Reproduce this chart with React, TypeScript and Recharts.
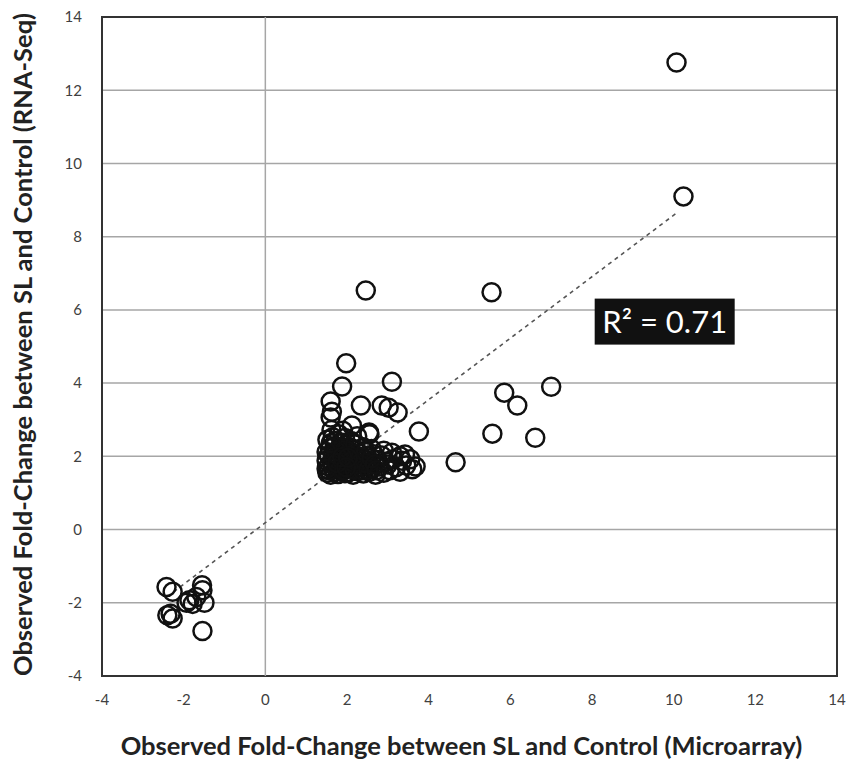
import React from "react";
import {
  ScatterChart,
  Scatter,
  XAxis,
  YAxis,
  CartesianGrid,
  ReferenceLine,
  ReferenceArea,
  ReferenceDot,
} from "recharts";

// [microarray FC, RNA-seq FC]
const downGenes: [number, number][] = [
  [-2.42, -1.57], [-2.27, -1.7], [-1.55, -1.52], [-1.54, -1.66],
  [-1.86, -1.93], [-1.78, -2.03], [-1.49, -2.0], [-1.93, -2.0],
  [-1.69, -1.84], [-2.4, -2.34], [-2.27, -2.43], [-2.32, -2.3],
  [-1.54, -2.77],
];

const clusterGenes: [number, number][] = [
  [1.52, 1.55], [1.6, 1.5], [1.7, 1.58], [1.78, 1.52], [1.85, 1.6],
  [1.95, 1.54], [2.05, 1.57], [2.15, 1.5], [2.25, 1.6], [2.4, 1.53],
  [2.55, 1.58], [2.7, 1.5], [2.9, 1.55], [3.05, 1.62], [3.3, 1.58],
  [3.6, 1.65], [1.55, 1.72], [1.65, 1.68], [1.75, 1.75], [1.88, 1.7],
  [1.98, 1.78], [2.1, 1.72], [2.22, 1.76], [2.35, 1.7], [2.5, 1.74],
  [2.62, 1.68], [2.8, 1.72], [3.0, 1.78], [3.2, 1.7], [3.45, 1.75],
  [3.68, 1.72], [1.5, 1.88], [1.62, 1.85], [1.72, 1.92], [1.82, 1.86],
  [1.92, 1.9], [2.02, 1.84], [2.12, 1.95], [2.28, 1.88], [2.42, 1.92],
  [2.58, 1.86], [2.75, 1.9], [2.95, 1.85], [3.12, 1.92], [3.35, 1.88],
  [3.55, 1.92], [1.55, 2.02], [1.66, 2.08], [1.78, 2.0], [1.9, 2.05],
  [2.0, 2.12], [2.15, 2.02], [2.3, 2.08], [2.48, 2.0], [2.65, 2.06],
  [2.85, 2.02], [3.1, 2.1], [3.42, 2.05], [3.3, 2.0], [1.58, 2.22],
  [1.7, 2.28], [1.82, 2.2], [1.95, 2.3], [2.08, 2.24], [2.22, 2.18],
  [2.4, 2.25], [2.6, 2.2], [2.9, 2.15], [1.52, 2.45], [1.65, 2.52],
  [1.8, 2.6], [1.95, 2.5], [2.1, 2.42], [2.25, 2.55], [2.55, 2.6],
  [1.72, 2.42], [1.56, 1.62], [1.64, 1.78], [1.68, 1.95], [1.74, 2.14],
  [1.84, 1.66], [1.86, 2.38], [1.92, 1.62], [1.96, 2.18], [2.04, 1.66],
  [2.06, 2.02], [2.1, 1.86], [2.18, 1.64], [2.2, 2.32], [2.3, 1.8],
  [2.34, 1.98], [2.38, 1.62], [2.45, 1.82], [2.46, 2.12], [2.52, 1.64],
  [2.6, 1.95], [2.68, 1.78], [2.72, 1.62], [1.5, 2.12], [1.5, 1.66],
  [1.6, 2.36], [1.76, 1.82], [1.88, 1.98], [1.98, 1.7], [2.02, 1.96],
];

const spreadGenes: [number, number][] = [
  [1.62, 2.72], [1.9, 2.7], [2.12, 2.84], [2.54, 2.65], [1.6, 3.06],
  [1.63, 3.22], [1.6, 3.5], [1.88, 3.91], [1.98, 4.54], [2.34, 3.39],
  [2.85, 3.39], [3.02, 3.33], [3.24, 3.2], [3.1, 4.04], [3.76, 2.68],
  [4.66, 1.84],
];

const outlierGenes: [number, number][] = [
  [10.07, 12.76], [10.24, 9.1], [2.46, 6.53], [5.54, 6.48], [5.85, 3.74],
  [6.17, 3.39], [7.0, 3.9], [5.56, 2.62], [6.61, 2.51],
];

const xTicks = [-4, -2, 0, 2, 4, 6, 8, 10, 12, 14];
const yTicks = [-4, -2, 0, 2, 4, 6, 8, 10, 12, 14];

const trendFrom = { x: -2.4, y: -1.83 };
const trendTo = { x: 10.1, y: 8.67 };

const rSquared = "0.71";
const labelAt = { x: 9.78, y: 5.68 };

const xTitle = "Observed Fold-Change between SL and Control (Microarray)";
const yTitle = "Observed Fold-Change between SL and Control (RNA-Seq)";

const points = [...downGenes, ...clusterGenes, ...spreadGenes, ...outlierGenes].map(
  ([x, y]) => ({ x, y })
);

const FONT = "Lato, 'Open Sans', sans-serif";

if (typeof document !== "undefined") document.body.style.margin = "0";

const Ring = (props: any) => (
  <circle cx={props.cx} cy={props.cy} r={9} fill="none" stroke="#111" strokeWidth={2.5} />
);

const RBox = (props: any) => (
  <g>
    <rect x={props.cx - 70} y={props.cy - 23} width={140} height={46} fill="#111" />
    <text
      x={props.cx}
      y={props.cy + 11}
      textAnchor="middle"
      fill="#fff"
      fontFamily={FONT}
      fontSize={31}
    >
      R² = {rSquared}
    </text>
  </g>
);

export default function App() {
  return (
    <ScatterChart
      width={849}
      height={762}
      margin={{ top: 17, right: 12, bottom: 0, left: 0 }}
    >
      <CartesianGrid vertical={false} stroke="#a6a6a6" strokeWidth={1.5} />
      <XAxis
        type="number"
        dataKey="x"
        domain={[-4, 14]}
        ticks={xTicks}
        height={86}
        axisLine={false}
        tickLine={false}
        tickSize={0}
        tickMargin={18}
        tick={{ fill: "#404040", fontSize: 15, fontFamily: FONT }}
        label={{
          content: (p: any) => (
            <text
              x={p.viewBox.x + p.viewBox.width / 2 - 8}
              y={p.viewBox.y + 79}
              textAnchor="middle"
              fill="#222"
              fontWeight="bold"
              fontSize={25.5}
              fontFamily={FONT}
            >
              {xTitle}
            </text>
          ),
        }}
      />
      <YAxis
        type="number"
        dataKey="y"
        domain={[-4, 14]}
        ticks={yTicks}
        width={102}
        axisLine={false}
        tickLine={false}
        tickSize={0}
        tickMargin={20}
        tick={{ fill: "#404040", fontSize: 15, fontFamily: FONT }}
        label={{
          content: (p: any) => {
            const cx = 22;
            const cy = p.viewBox.y + p.viewBox.height / 2 - 2;
            return (
              <text
                x={cx}
                y={cy}
                transform={`rotate(-90 ${cx} ${cy})`}
                textAnchor="middle"
                dominantBaseline="central"
                fill="#222"
                fontWeight="bold"
                fontSize={25.5}
                fontFamily={FONT}
              >
                {yTitle}
              </text>
            );
          },
        }}
      />
      <ReferenceLine x={0} stroke="#a6a6a6" strokeWidth={1.5} />
      <ReferenceLine
        segment={[trendFrom, trendTo]}
        stroke="#555"
        strokeWidth={1.6}
        strokeDasharray="4 4"
      />
      <Scatter data={points} shape={Ring} isAnimationActive={false} />
      <ReferenceArea
        x1={-4}
        x2={14}
        y1={-4}
        y2={14}
        fill="none"
        stroke="#333"
        strokeWidth={2}
        fillOpacity={0}
      />
      <ReferenceDot x={labelAt.x} y={labelAt.y} shape={RBox} />
    </ScatterChart>
  );
}
